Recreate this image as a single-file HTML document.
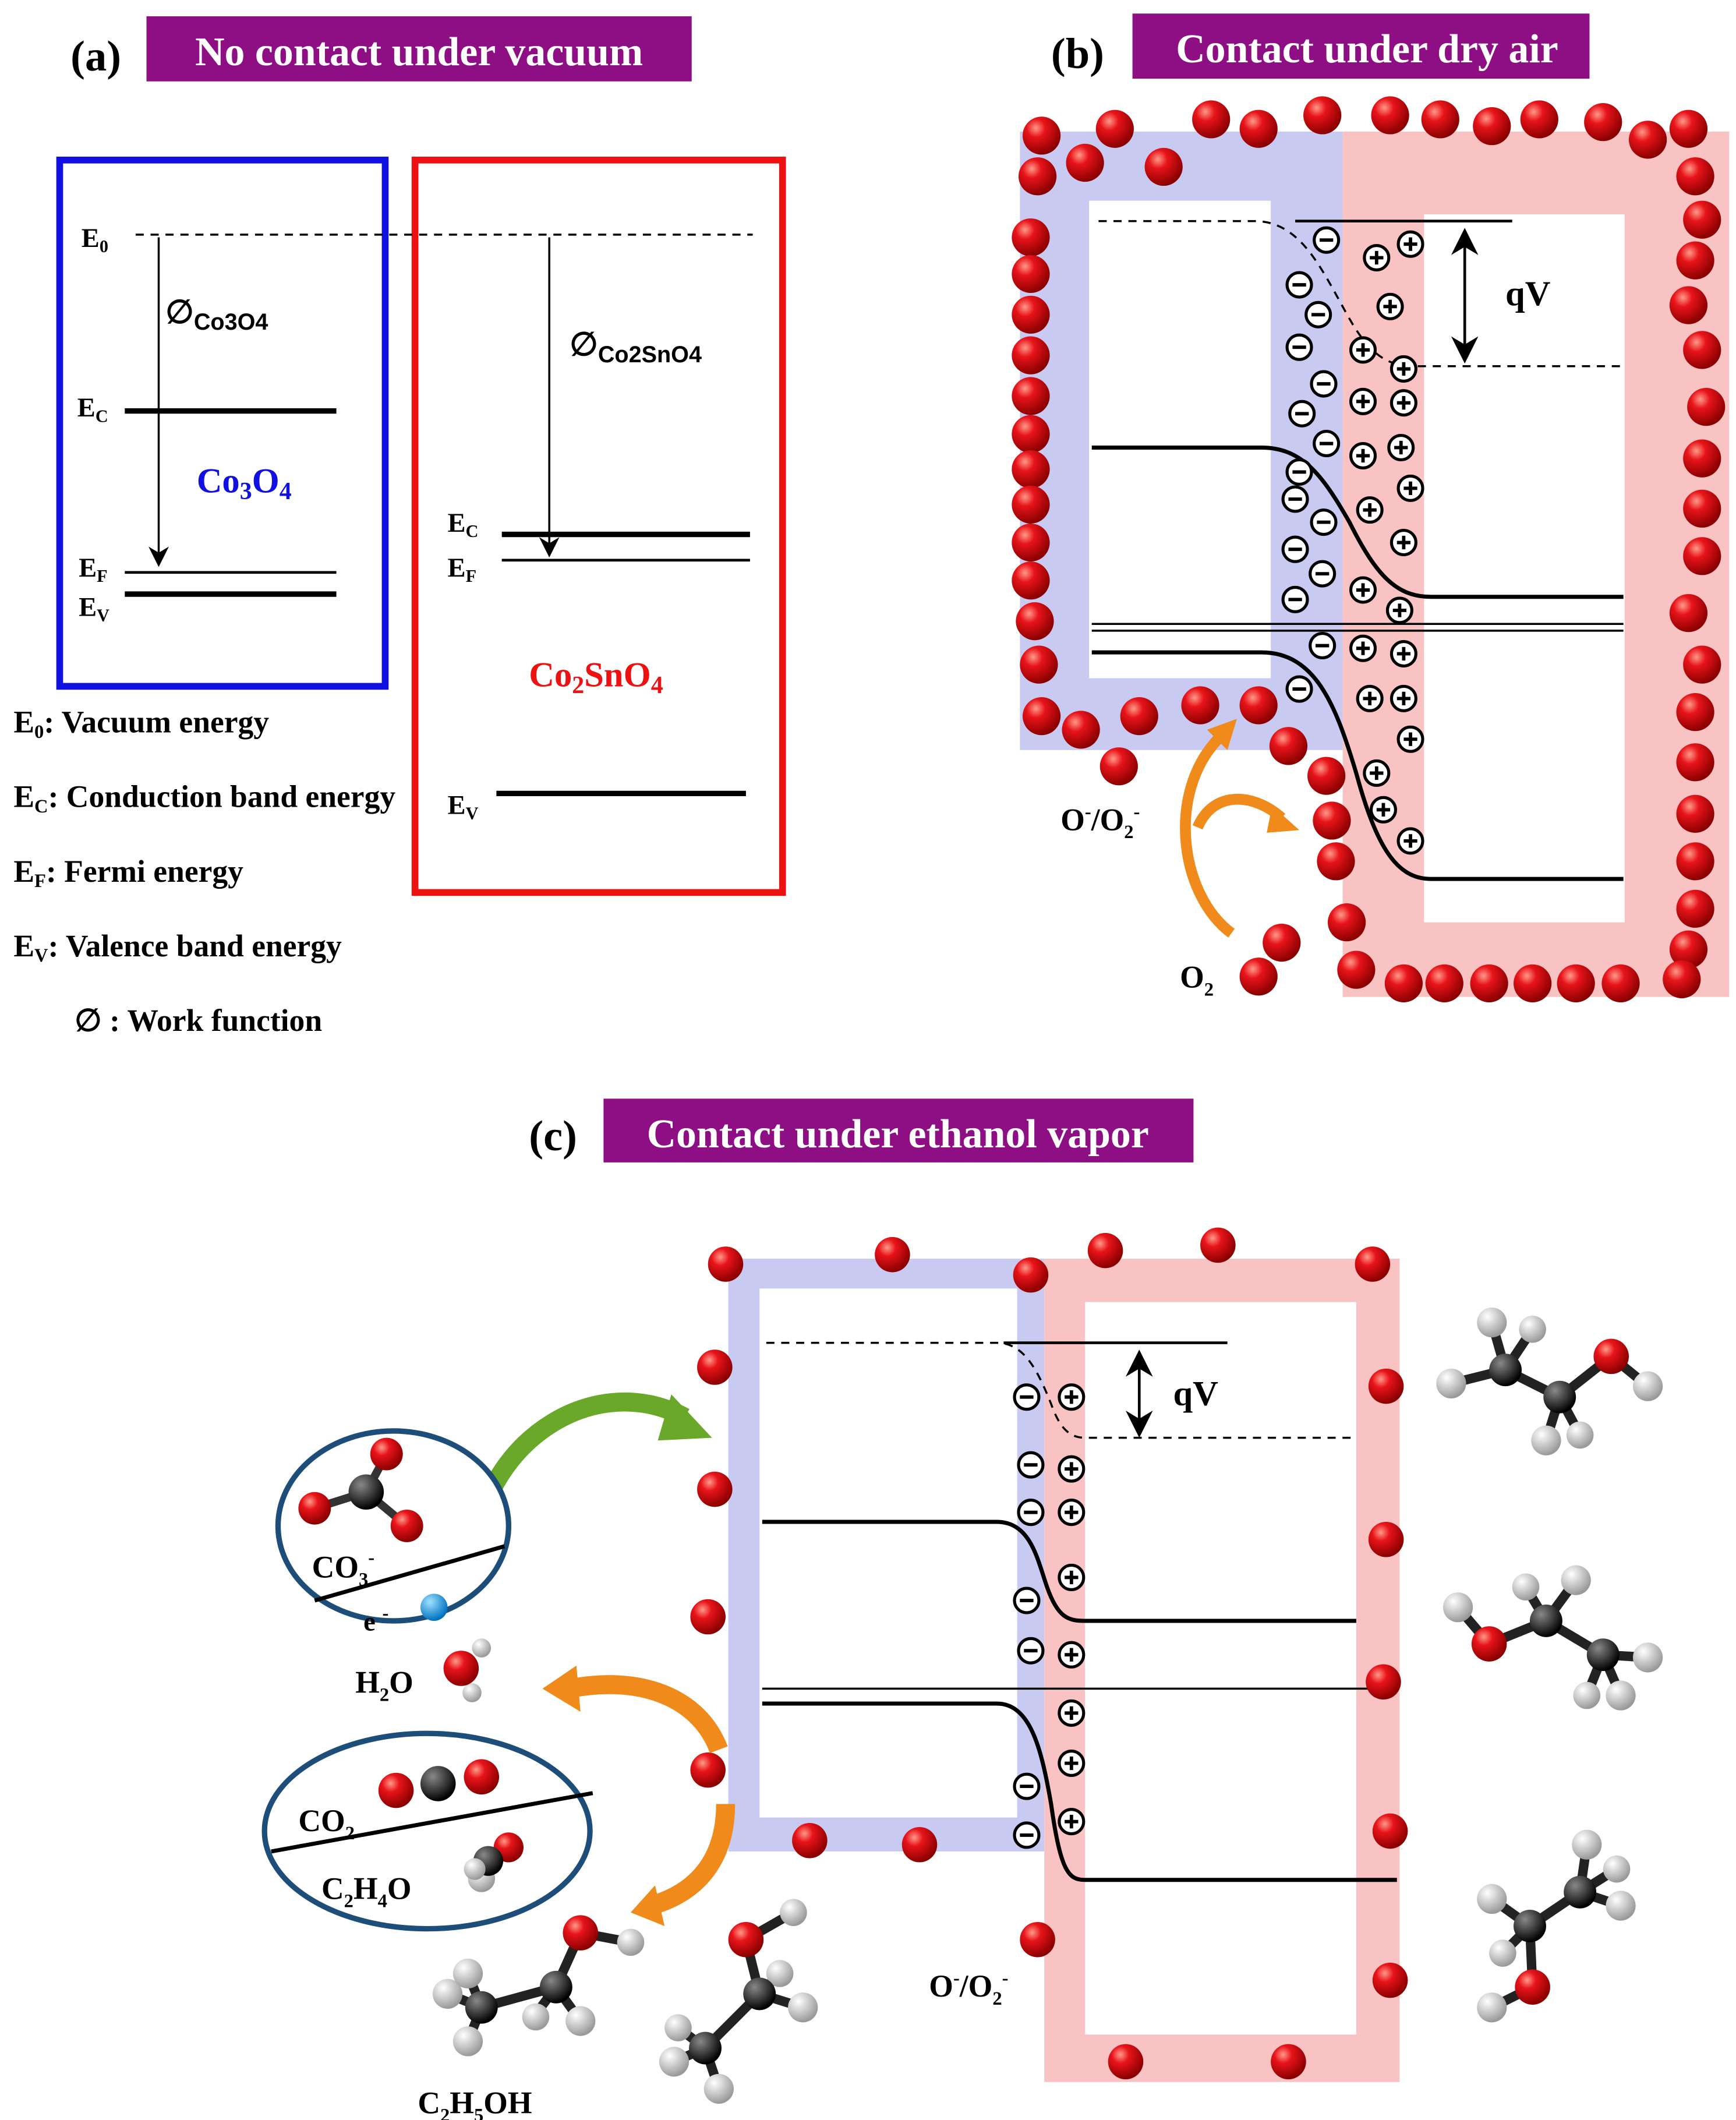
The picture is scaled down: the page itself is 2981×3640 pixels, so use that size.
<!DOCTYPE html>
<html><head><meta charset="utf-8"><style>html,body{margin:0;padding:0;background:#fff}svg{display:block}text{font-family:"Liberation Serif",serif;font-weight:bold}</style></head><body>
<svg width="2981" height="3640" viewBox="0 0 1280 1563" xmlns="http://www.w3.org/2000/svg">
<defs>
<radialGradient id="rb" cx="35%" cy="30%" r="70%"><stop offset="0" stop-color="#ff9a8a"/><stop offset="0.35" stop-color="#e8141a"/><stop offset="1" stop-color="#8a0000"/></radialGradient>
<radialGradient id="gb" cx="35%" cy="30%" r="70%"><stop offset="0" stop-color="#888"/><stop offset="1" stop-color="#000"/></radialGradient>
<radialGradient id="wb" cx="35%" cy="30%" r="70%"><stop offset="0" stop-color="#fff"/><stop offset="1" stop-color="#999"/></radialGradient>
<radialGradient id="bb" cx="35%" cy="30%" r="70%"><stop offset="0" stop-color="#9fe3ff"/><stop offset="1" stop-color="#0070c0"/></radialGradient>
<g id="m"><circle r="9" fill="#fff" stroke="#000" stroke-width="2.2"/><line x1="-5" y1="0" x2="5" y2="0" stroke="#000" stroke-width="2.5"/></g>
<g id="p"><circle r="9" fill="#fff" stroke="#000" stroke-width="2.2"/><line x1="-5" y1="0" x2="5" y2="0" stroke="#000" stroke-width="2.5"/><line x1="0" y1="-5" x2="0" y2="5" stroke="#000" stroke-width="2.5"/></g>
<g id="b"><circle r="14" fill="url(#rb)"/></g>
<g id="s"><circle r="13" fill="url(#rb)"/></g>
<marker id="ar" markerWidth="10" markerHeight="10" refX="8" refY="5" orient="auto-start-reverse"><path d="M0,0 L10,5 L0,10 L3,5z" fill="#000"/></marker>
</defs>

<!-- Panel a -->
<text x="52" y="52" font-size="32">(a)</text>
<rect x="108" y="12" width="402" height="48" fill="#8e0f84"/>
<text x="309" y="48" font-size="30" fill="#fff" text-anchor="middle">No contact under vacuum</text>
<rect x="44" y="118" width="240" height="388" fill="none" stroke="#1010e0" stroke-width="5"/>
<rect x="306" y="118" width="271" height="540" fill="none" stroke="#ee1111" stroke-width="5"/>
<line x1="100" y1="173" x2="555" y2="173" stroke="#000" stroke-width="1.5" stroke-dasharray="6,5"/>
<text x="60" y="182" font-size="20">E<tspan font-size="13" dy="4">0</tspan></text>
<line x1="117" y1="175" x2="117" y2="415" stroke="#000" stroke-width="1.5" marker-end="url(#ar)"/>
<text x="122" y="238" font-size="24" font-weight="normal">∅<tspan font-size="17" dy="5" font-family="Liberation Sans">Co3O4</tspan></text>
<line x1="92" y1="303" x2="248" y2="303" stroke="#000" stroke-width="4"/>
<text x="57" y="307" font-size="20">E<tspan font-size="13" dy="4">C</tspan></text>
<text x="145" y="363" font-size="26" fill="#1010e0">Co<tspan font-size="18" dy="5">3</tspan><tspan dy="-5">O</tspan><tspan font-size="18" dy="5">4</tspan></text>
<line x1="92" y1="422" x2="248" y2="422" stroke="#000" stroke-width="2"/>
<line x1="92" y1="438" x2="248" y2="438" stroke="#000" stroke-width="4"/>
<text x="58" y="425" font-size="20">E<tspan font-size="13" dy="4">F</tspan></text>
<text x="58" y="454" font-size="20">E<tspan font-size="13" dy="4">V</tspan></text>
<line x1="405" y1="175" x2="405" y2="408" stroke="#000" stroke-width="1.5" marker-end="url(#ar)"/>
<text x="420" y="262" font-size="24" font-weight="normal">∅<tspan font-size="17" dy="5" font-family="Liberation Sans">Co2SnO4</tspan></text>
<line x1="370" y1="394" x2="553" y2="394" stroke="#000" stroke-width="4"/>
<line x1="370" y1="413" x2="553" y2="413" stroke="#000" stroke-width="2"/>
<text x="330" y="392" font-size="20">E<tspan font-size="13" dy="4">C</tspan></text>
<text x="330" y="425" font-size="20">E<tspan font-size="13" dy="4">F</tspan></text>
<text x="390" y="506" font-size="26" fill="#ee1111">Co<tspan font-size="18" dy="5">2</tspan><tspan dy="-5">SnO</tspan><tspan font-size="18" dy="5">4</tspan></text>
<line x1="366" y1="585" x2="550" y2="585" stroke="#000" stroke-width="4"/>
<text x="330" y="600" font-size="20">E<tspan font-size="13" dy="4">V</tspan></text>
<text x="10" y="540" font-size="23">E<tspan font-size="14" dy="4">0</tspan><tspan dy="-4">: Vacuum energy</tspan></text>
<text x="10" y="595" font-size="23">E<tspan font-size="14" dy="4">C</tspan><tspan dy="-4">: Conduction band energy</tspan></text>
<text x="10" y="650" font-size="23">E<tspan font-size="14" dy="4">F</tspan><tspan dy="-4">: Fermi energy</tspan></text>
<text x="10" y="705" font-size="23">E<tspan font-size="14" dy="4">V</tspan><tspan dy="-4">: Valence band energy</tspan></text>
<text x="55" y="760" font-size="23">∅ : Work function</text>

<!-- Panel b -->
<text x="775" y="50" font-size="32">(b)</text>
<rect x="835" y="10" width="337" height="48" fill="#8e0f84"/>
<text x="1008" y="46" font-size="30" fill="#fff" text-anchor="middle">Contact under dry air</text>
<rect x="752" y="97" width="238" height="456" fill="#c9caf2"/>
<rect x="990" y="97" width="285" height="638" fill="#f9c3c3"/>
<rect x="803" y="148" width="134" height="352" fill="#fff"/>
<rect x="1050" y="158" width="148" height="522" fill="#fff"/>
<line x1="955" y1="163" x2="1115" y2="163" stroke="#000" stroke-width="2"/>
<path d="M810,163 L925,163 C960,163 975,200 995,235 C1015,270 1030,270 1050,270 L1195,270" fill="none" stroke="#000" stroke-width="1.5" stroke-dasharray="6,5"/>
<line x1="1080" y1="172" x2="1080" y2="264" stroke="#000" stroke-width="2" marker-end="url(#ar)" marker-start="url(#ar)"/>
<text x="1110" y="225" font-size="26">qV</text>
<path d="M805,330 L930,330 C960,330 975,350 995,385 C1015,425 1030,440 1055,440 L1197,440" fill="none" stroke="#000" stroke-width="3"/>
<line x1="805" y1="460" x2="1197" y2="460" stroke="#000" stroke-width="1.5"/>
<line x1="805" y1="465" x2="1197" y2="465" stroke="#000" stroke-width="1.5"/>
<path d="M805,481 L930,481 C970,481 985,520 1000,570 C1015,625 1030,648 1055,648 L1197,648" fill="none" stroke="#000" stroke-width="3"/>
<g>
<use href="#m" x="978" y="177"/><use href="#m" x="958" y="210"/><use href="#m" x="972" y="232"/><use href="#m" x="958" y="256"/><use href="#m" x="976" y="283"/><use href="#m" x="960" y="305"/><use href="#m" x="978" y="327"/><use href="#m" x="958" y="348"/><use href="#m" x="976" y="385"/><use href="#m" x="955" y="368"/><use href="#m" x="955" y="405"/><use href="#m" x="975" y="423"/><use href="#m" x="955" y="442"/><use href="#m" x="975" y="476"/><use href="#m" x="958" y="508"/>
<use href="#p" x="1015" y="190"/><use href="#p" x="1040" y="180"/><use href="#p" x="1025" y="226"/><use href="#p" x="1005" y="258"/><use href="#p" x="1035" y="272"/><use href="#p" x="1005" y="296"/><use href="#p" x="1035" y="297"/><use href="#p" x="1005" y="336"/><use href="#p" x="1033" y="330"/><use href="#p" x="1010" y="376"/><use href="#p" x="1040" y="360"/><use href="#p" x="1035" y="400"/><use href="#p" x="1005" y="435"/><use href="#p" x="1032" y="450"/><use href="#p" x="1005" y="478"/><use href="#p" x="1035" y="482"/><use href="#p" x="1010" y="515"/><use href="#p" x="1035" y="515"/><use href="#p" x="1040" y="545"/><use href="#p" x="1015" y="570"/><use href="#p" x="1020" y="597"/><use href="#p" x="1040" y="620"/>
</g>
<g>
<use href="#b" x="760" y="175"/><use href="#b" x="760" y="202"/><use href="#b" x="760" y="232"/><use href="#b" x="760" y="262"/><use href="#b" x="760" y="292"/><use href="#b" x="760" y="320"/><use href="#b" x="760" y="346"/><use href="#b" x="760" y="372"/><use href="#b" x="760" y="400"/><use href="#b" x="760" y="428"/><use href="#b" x="763" y="458"/><use href="#b" x="766" y="490"/>
<use href="#b" x="768" y="100"/><use href="#b" x="765" y="130"/><use href="#b" x="800" y="120"/><use href="#b" x="822" y="95"/><use href="#b" x="858" y="123"/><use href="#b" x="893" y="88"/><use href="#b" x="928" y="95"/><use href="#b" x="975" y="85"/><use href="#b" x="1025" y="85"/><use href="#b" x="1062" y="88"/><use href="#b" x="1100" y="93"/><use href="#b" x="1135" y="88"/><use href="#b" x="1182" y="90"/><use href="#b" x="1215" y="103"/><use href="#b" x="1245" y="95"/>
<use href="#b" x="1250" y="130"/><use href="#b" x="1255" y="162"/><use href="#b" x="1250" y="192"/><use href="#b" x="1245" y="225"/><use href="#b" x="1255" y="258"/><use href="#b" x="1258" y="300"/><use href="#b" x="1255" y="338"/><use href="#b" x="1255" y="375"/><use href="#b" x="1255" y="410"/><use href="#b" x="1245" y="452"/><use href="#b" x="1255" y="490"/><use href="#b" x="1250" y="525"/><use href="#b" x="1250" y="562"/><use href="#b" x="1250" y="600"/><use href="#b" x="1250" y="635"/><use href="#b" x="1250" y="670"/><use href="#b" x="1245" y="700"/>
<use href="#b" x="1000" y="715"/><use href="#b" x="1035" y="725"/><use href="#b" x="1065" y="725"/><use href="#b" x="1098" y="725"/><use href="#b" x="1130" y="725"/><use href="#b" x="1162" y="725"/><use href="#b" x="1195" y="725"/><use href="#b" x="1240" y="722"/>
<use href="#b" x="768" y="528"/><use href="#b" x="797" y="538"/><use href="#b" x="840" y="528"/><use href="#b" x="885" y="520"/><use href="#b" x="928" y="520"/><use href="#b" x="950" y="550"/><use href="#b" x="825" y="565"/><use href="#b" x="978" y="572"/><use href="#b" x="982" y="605"/><use href="#b" x="985" y="635"/><use href="#b" x="993" y="680"/>
<use href="#b" x="945" y="695"/><use href="#b" x="928" y="720"/>
</g>
<text x="782" y="612" font-size="23">O<tspan font-size="14" dy="-9">-</tspan><tspan dy="9">/O</tspan><tspan font-size="14" dy="6">2</tspan><tspan font-size="14" dy="-15">-</tspan></text>
<text x="870" y="728" font-size="23">O<tspan font-size="14" dy="6">2</tspan></text>
<path d="M908,688 C870,660 860,585 898,545" fill="none" stroke="#f08a1a" stroke-width="8"/>
<path d="M890,538 L912,530 L905,553 Z" fill="#f08a1a"/>
<path d="M883,610 C895,582 925,585 945,603" fill="none" stroke="#f08a1a" stroke-width="8"/>
<path d="M938,594 L958,612 L934,614 Z" fill="#f08a1a"/>

<!-- Panel c -->
<text x="390" y="848" font-size="32">(c)</text>
<rect x="445" y="810" width="435" height="47" fill="#8e0f84"/>
<text x="662" y="846" font-size="30" fill="#fff" text-anchor="middle">Contact under ethanol vapor</text>
<rect x="537" y="928" width="233" height="437" fill="#c9caf2"/>
<rect x="770" y="928" width="262" height="607" fill="#f9c3c3"/>
<rect x="560" y="950" width="190" height="390" fill="#fff"/>
<rect x="800" y="960" width="200" height="540" fill="#fff"/>
<line x1="740" y1="990" x2="905" y2="990" stroke="#000" stroke-width="2"/>
<path d="M565,990 L735,990 C755,990 765,1010 775,1035 C782,1055 790,1060 800,1060 L1000,1060" fill="none" stroke="#000" stroke-width="1.5" stroke-dasharray="6,5"/>
<line x1="840" y1="999" x2="840" y2="1056" stroke="#000" stroke-width="2" marker-end="url(#ar)" marker-start="url(#ar)"/>
<text x="865" y="1036" font-size="26">qV</text>
<path d="M562,1122 L735,1122 C760,1122 765,1150 772,1170 C780,1193 788,1195 800,1195 L1000,1195" fill="none" stroke="#000" stroke-width="3"/>
<line x1="562" y1="1245" x2="1030" y2="1245" stroke="#000" stroke-width="1.5"/>
<path d="M562,1256 L735,1256 C760,1256 768,1290 775,1330 C782,1380 788,1386 800,1386 L1030,1386" fill="none" stroke="#000" stroke-width="3"/>
<g>
<use href="#m" x="757" y="1030"/><use href="#m" x="760" y="1080"/><use href="#m" x="760" y="1115"/><use href="#m" x="757" y="1180"/><use href="#m" x="760" y="1217"/><use href="#m" x="757" y="1317"/><use href="#m" x="757" y="1353"/>
<use href="#p" x="790" y="1030"/><use href="#p" x="790" y="1083"/><use href="#p" x="790" y="1115"/><use href="#p" x="790" y="1163"/><use href="#p" x="790" y="1220"/><use href="#p" x="790" y="1263"/><use href="#p" x="790" y="1300"/><use href="#p" x="790" y="1343"/>
</g>
<g>
<use href="#s" x="535" y="932"/><use href="#s" x="658" y="925"/><use href="#s" x="760" y="940"/><use href="#s" x="815" y="922"/><use href="#s" x="898" y="918"/><use href="#s" x="1012" y="932"/><use href="#s" x="527" y="1008"/><use href="#s" x="527" y="1098"/><use href="#s" x="522" y="1192"/><use href="#s" x="522" y="1305"/><use href="#s" x="597" y="1357"/><use href="#s" x="678" y="1360"/><use href="#s" x="765" y="1430"/><use href="#s" x="1022" y="1022"/><use href="#s" x="1022" y="1135"/><use href="#s" x="1020" y="1240"/><use href="#s" x="1025" y="1350"/><use href="#s" x="1025" y="1460"/><use href="#s" x="830" y="1520"/><use href="#s" x="950" y="1520"/>
</g>
<text x="685" y="1472" font-size="23">O<tspan font-size="14" dy="-9">-</tspan><tspan dy="9">/O</tspan><tspan font-size="14" dy="6">2</tspan><tspan font-size="14" dy="-15">-</tspan></text>

<!-- arrows c -->
<path d="M350,1140 C360,1060 440,1010 505,1045" fill="none" stroke="#6aa82a" stroke-width="14"/>
<path d="M495,1028 L525,1060 L485,1062 Z" fill="#6aa82a"/>
<path d="M530,1290 C515,1250 470,1235 420,1245" fill="none" stroke="#f08a1a" stroke-width="14"/>
<path d="M425,1228 L400,1245 L428,1262 Z" fill="#f08a1a"/>
<path d="M535,1330 C535,1370 515,1395 480,1405" fill="none" stroke="#f08a1a" stroke-width="14"/>
<path d="M483,1390 L465,1410 L490,1420 Z" fill="#f08a1a"/>

<!-- left ellipses -->
<ellipse cx="290" cy="1125" rx="85" ry="70" fill="#fff" stroke="#1d4e79" stroke-width="4"/>
<line x1="232" y1="1180" x2="372" y2="1140" stroke="#000" stroke-width="3"/>
<line x1="270" y1="1100" x2="285" y2="1072" stroke="#333" stroke-width="6"/>
<line x1="270" y1="1100" x2="232" y2="1112" stroke="#333" stroke-width="6"/>
<line x1="270" y1="1100" x2="300" y2="1125" stroke="#333" stroke-width="6"/>
<circle cx="285" cy="1072" r="12" fill="url(#rb)"/><circle cx="232" cy="1112" r="12" fill="url(#rb)"/><circle cx="300" cy="1125" r="12" fill="url(#rb)"/><circle cx="270" cy="1100" r="13" fill="url(#gb)"/>
<text x="230" y="1163" font-size="23">CO<tspan font-size="14" dy="6">3</tspan><tspan font-size="14" dy="-16">-</tspan></text>
<text x="268" y="1202" font-size="20">e <tspan font-size="14" dy="-8">-</tspan></text>
<circle cx="320" cy="1185" r="10" fill="url(#bb)"/>
<text x="262" y="1248" font-size="23">H<tspan font-size="14" dy="6">2</tspan><tspan dy="-6">O</tspan></text>
<circle cx="355" cy="1215" r="7" fill="url(#wb)"/><circle cx="348" cy="1248" r="7" fill="url(#wb)"/><circle cx="340" cy="1230" r="13" fill="url(#rb)"/>
<ellipse cx="315" cy="1350" rx="120" ry="72" fill="#fff" stroke="#1d4e79" stroke-width="4"/>
<line x1="200" y1="1365" x2="437" y2="1322" stroke="#000" stroke-width="3"/>
<circle cx="292" cy="1320" r="13" fill="url(#rb)"/><circle cx="355" cy="1310" r="13" fill="url(#rb)"/><circle cx="323" cy="1315" r="13" fill="url(#gb)"/>
<text x="220" y="1350" font-size="23">CO<tspan font-size="14" dy="6">2</tspan></text>
<text x="237" y="1400" font-size="23">C<tspan font-size="14" dy="6">2</tspan><tspan dy="-6">H</tspan><tspan font-size="14" dy="6">4</tspan><tspan dy="-6">O</tspan></text>
<circle cx="355" cy="1385" r="10" fill="url(#wb)"/><circle cx="375" cy="1362" r="11" fill="url(#rb)"/><circle cx="360" cy="1372" r="11" fill="url(#gb)"/><circle cx="350" cy="1378" r="8" fill="url(#wb)"/>

<!-- ethanol molecules -->
<g stroke="#222" stroke-width="7">
<line x1="355" y1="1480" x2="410" y2="1465"/><line x1="410" y1="1465" x2="428" y2="1425"/><line x1="428" y1="1425" x2="465" y2="1432"/>
<line x1="355" y1="1480" x2="330" y2="1470"/><line x1="355" y1="1480" x2="345" y2="1505"/><line x1="355" y1="1480" x2="345" y2="1455"/><line x1="410" y1="1465" x2="428" y2="1490"/><line x1="410" y1="1465" x2="395" y2="1485"/>
<line x1="520" y1="1510" x2="560" y2="1470"/><line x1="560" y1="1470" x2="550" y2="1430"/><line x1="550" y1="1430" x2="585" y2="1410"/><line x1="520" y1="1510" x2="497" y2="1520"/><line x1="520" y1="1510" x2="530" y2="1540"/><line x1="520" y1="1510" x2="500" y2="1495"/><line x1="560" y1="1470" x2="592" y2="1480"/><line x1="560" y1="1470" x2="575" y2="1455"/>
<line x1="1110" y1="1010" x2="1150" y2="1030"/><line x1="1150" y1="1030" x2="1188" y2="1000"/><line x1="1188" y1="1000" x2="1215" y2="1022"/><line x1="1110" y1="1010" x2="1070" y2="1020"/><line x1="1110" y1="1010" x2="1100" y2="975"/><line x1="1110" y1="1010" x2="1130" y2="980"/><line x1="1150" y1="1030" x2="1140" y2="1062"/><line x1="1150" y1="1030" x2="1165" y2="1058"/>
<line x1="1098" y1="1212" x2="1140" y2="1195"/><line x1="1140" y1="1195" x2="1182" y2="1220"/><line x1="1098" y1="1212" x2="1075" y2="1185"/><line x1="1140" y1="1195" x2="1162" y2="1165"/><line x1="1140" y1="1195" x2="1125" y2="1170"/><line x1="1182" y1="1220" x2="1215" y2="1222"/><line x1="1182" y1="1220" x2="1195" y2="1250"/><line x1="1182" y1="1220" x2="1170" y2="1250"/>
<line x1="1130" y1="1465" x2="1128" y2="1420"/><line x1="1128" y1="1420" x2="1165" y2="1395"/><line x1="1130" y1="1465" x2="1100" y2="1480"/><line x1="1128" y1="1420" x2="1100" y2="1400"/><line x1="1128" y1="1420" x2="1108" y2="1440"/><line x1="1165" y1="1395" x2="1195" y2="1405"/><line x1="1165" y1="1395" x2="1170" y2="1360"/><line x1="1165" y1="1395" x2="1192" y2="1378"/>
</g>
<g>
<circle cx="330" cy="1470" r="11" fill="url(#wb)"/><circle cx="345" cy="1505" r="11" fill="url(#wb)"/><circle cx="345" cy="1455" r="11" fill="url(#wb)"/><circle cx="428" cy="1490" r="11" fill="url(#wb)"/><circle cx="395" cy="1487" r="10" fill="url(#wb)"/><circle cx="465" cy="1432" r="10" fill="url(#wb)"/>
<circle cx="355" cy="1480" r="12" fill="url(#gb)"/><circle cx="410" cy="1465" r="12" fill="url(#gb)"/><circle cx="428" cy="1425" r="13" fill="url(#rb)"/>
<circle cx="497" cy="1520" r="11" fill="url(#wb)"/><circle cx="530" cy="1540" r="11" fill="url(#wb)"/><circle cx="500" cy="1495" r="10" fill="url(#wb)"/><circle cx="592" cy="1480" r="11" fill="url(#wb)"/><circle cx="575" cy="1455" r="10" fill="url(#wb)"/><circle cx="585" cy="1410" r="10" fill="url(#wb)"/>
<circle cx="520" cy="1510" r="12" fill="url(#gb)"/><circle cx="560" cy="1470" r="12" fill="url(#gb)"/><circle cx="550" cy="1430" r="13" fill="url(#rb)"/>
<circle cx="1070" cy="1020" r="11" fill="url(#wb)"/><circle cx="1100" cy="975" r="11" fill="url(#wb)"/><circle cx="1130" cy="980" r="10" fill="url(#wb)"/><circle cx="1140" cy="1062" r="11" fill="url(#wb)"/><circle cx="1165" cy="1058" r="10" fill="url(#wb)"/><circle cx="1215" cy="1022" r="11" fill="url(#wb)"/>
<circle cx="1110" cy="1010" r="12" fill="url(#gb)"/><circle cx="1150" cy="1030" r="12" fill="url(#gb)"/><circle cx="1188" cy="1000" r="13" fill="url(#rb)"/>
<circle cx="1075" cy="1185" r="11" fill="url(#wb)"/><circle cx="1162" cy="1165" r="11" fill="url(#wb)"/><circle cx="1125" cy="1170" r="10" fill="url(#wb)"/><circle cx="1215" cy="1222" r="11" fill="url(#wb)"/><circle cx="1195" cy="1250" r="11" fill="url(#wb)"/><circle cx="1170" cy="1250" r="10" fill="url(#wb)"/>
<circle cx="1098" cy="1212" r="13" fill="url(#rb)"/><circle cx="1140" cy="1195" r="12" fill="url(#gb)"/><circle cx="1182" cy="1220" r="12" fill="url(#gb)"/>
<circle cx="1100" cy="1480" r="11" fill="url(#wb)"/><circle cx="1100" cy="1400" r="11" fill="url(#wb)"/><circle cx="1108" cy="1440" r="10" fill="url(#wb)"/><circle cx="1195" cy="1405" r="11" fill="url(#wb)"/><circle cx="1170" cy="1360" r="11" fill="url(#wb)"/><circle cx="1192" cy="1378" r="10" fill="url(#wb)"/>
<circle cx="1130" cy="1465" r="13" fill="url(#rb)"/><circle cx="1128" cy="1420" r="12" fill="url(#gb)"/><circle cx="1165" cy="1395" r="12" fill="url(#gb)"/>
</g>
<text x="308" y="1558" font-size="23">C<tspan font-size="14" dy="6">2</tspan><tspan dy="-6">H</tspan><tspan font-size="14" dy="6">5</tspan><tspan dy="-6">OH</tspan></text>
</svg>
</body></html>
